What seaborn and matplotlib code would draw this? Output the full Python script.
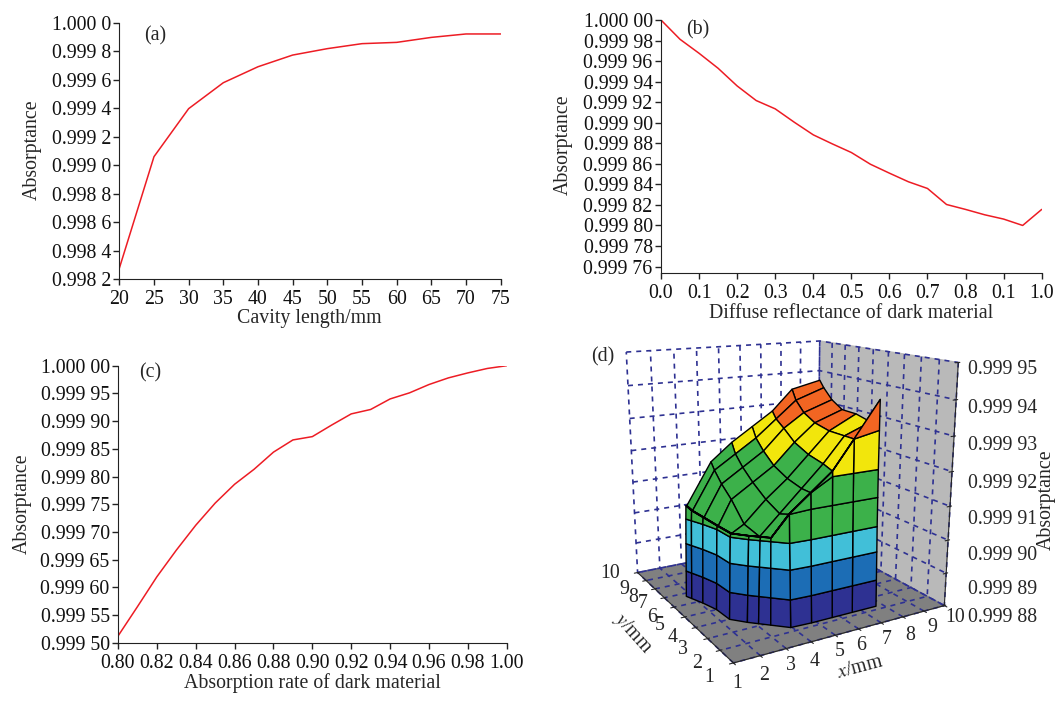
import numpy as np
import pandas as pd
import seaborn as sns
import matplotlib
matplotlib.use('Agg')
import matplotlib.pyplot as plt
from matplotlib.colors import ListedColormap, BoundaryNorm

# panel a
cavity_length = [20, 25, 30, 35, 40, 45, 50, 55, 60, 65, 70, 75]
absorb_a = [0.998277, 0.99906, 0.999397, 0.999579, 0.999691, 0.999773,
            0.999818, 0.999853, 0.999862, 0.999897, 0.999921, 0.999921]
yticks_a = [0.9982, 0.9984, 0.9986, 0.9988, 0.9990, 0.9992, 0.9994, 0.9996, 0.9998, 1.0]
ylabels_a = ['0.998 2', '0.998 4', '0.998 6', '0.998 8', '0.999 0',
             '0.999 2', '0.999 4', '0.999 6', '0.999 8', '1.000 0']

# panel b
reflectance = [0.0, 0.05, 0.1, 0.15, 0.2, 0.25, 0.3, 0.35, 0.4, 0.45, 0.5,
               0.55, 0.6, 0.65, 0.7, 0.75, 0.8, 0.85, 0.9, 0.95, 1.0]
absorb_b = [1.0, 0.9999812, 0.9999676, 0.999953, 0.9999358, 0.9999216, 0.9999135,
            0.9999005, 0.9998882, 0.9998794, 0.999871, 0.9998596, 0.9998509,
            0.9998425, 0.999836, 0.9998204, 0.9998156, 0.9998104, 0.9998062,
            0.9998, 0.9998156]
xticks_b = [0.0, 0.1, 0.2, 0.3, 0.4, 0.5, 0.6, 0.7, 0.8, 0.9, 1.0]
xlabels_b = ['0.0', '0.1', '0.2', '0.3', '0.4', '0.5', '0.6', '0.7', '0.8', '0.1', '1.0']
yticks_b = [0.99976, 0.99978, 0.9998, 0.99982, 0.99984, 0.99986, 0.99988,
            0.9999, 0.99992, 0.99994, 0.99996, 0.99998, 1.0]
ylabels_b = ['0.999 76', '0.999 78', '0.999 80', '0.999 82', '0.999 84', '0.999 86',
             '0.999 88', '0.999 90', '0.999 92', '0.999 94', '0.999 96', '0.999 98', '1.000 00']

# panel c
absorption_rate = [0.80, 0.81, 0.82, 0.83, 0.84, 0.85, 0.86, 0.87, 0.88, 0.89, 0.90,
                   0.91, 0.92, 0.93, 0.94, 0.95, 0.96, 0.97, 0.98, 0.99, 1.00]
absorb_c = [0.999512, 0.999565, 0.999619, 0.999667, 0.999712, 0.999752, 0.999786,
            0.999813, 0.999844, 0.999866, 0.999872, 0.999893, 0.999913, 0.999921,
            0.99994, 0.999951, 0.999966, 0.999978, 0.999987, 0.999995, 1.0]
xticks_c = [0.80, 0.82, 0.84, 0.86, 0.88, 0.90, 0.92, 0.94, 0.96, 0.98, 1.00]
yticks_c = [0.9995, 0.99955, 0.9996, 0.99965, 0.9997, 0.99975, 0.9998, 0.99985, 0.9999, 0.99995, 1.0]
ylabels_c = ['0.999 50', '0.999 55', '0.999 60', '0.999 65', '0.999 70', '0.999 75',
             '0.999 80', '0.999 85', '0.999 90', '0.999 95', '1.000 00']

# panel d: heights in units of 1e-5 above 0.999
top_x = [2.5, 3, 3.9, 4.8, 5.7, 6.6, 7.8]
top_y = [2.4, 3, 4, 5, 5.8, 6.4, 6.7]
left_edge_x = [2.5, 2.5, 2.5, 2.45, 2.25, 2.05, 1.95]
right_edge_x = [7.7, 7.75, 7.8, 7.85, 7.9, 7.9, 7.9]
top_height = [
    [90.5, 90.5, 91.2, 91.7, 92.2, 93.0, 94.0],
    [90.5, 90.5, 91.1, 91.7, 92.3, 93.0, 93.3],
    [90.5, 90.7, 91.3, 91.8, 92.4, 93.0, 93.4],
    [90.5, 91.2, 91.6, 92.0, 92.6, 93.1, 93.4],
    [90.6, 91.5, 91.9, 92.3, 92.9, 93.3, 93.6],
    [90.7, 91.8, 92.2, 92.6, 93.1, 93.6, 93.9],
    [90.8, 92.0, 92.5, 92.9, 93.3, 93.9, 94.1],
]
wall_levels = [88.0, 88.8, 89.65, 90.4, 91.25, 92.05, 93.15, 95.0]
wall_lean = [0.15, 0.12, 0.09, 0.06, 0.04, 0.02, 0.01, 0.0]
wall_bands = [87.0, 88.8, 89.65, 90.4, 92.05, 93.15, 95.0]
top_bands = [87.0, 88.8, 89.65, 90.4, 92.3, 93.2, 95.0]
band_colors = ['#2e3192', '#1c6db5', '#41bfd8', '#3cb14a', '#f2e60c', '#f26522']
zticks_d = [0.99988, 0.99989, 0.9999, 0.99991, 0.99992, 0.99993, 0.99994, 0.99995]
zlabels_d = ['0.999 88', '0.999 89', '0.999 90', '0.999 91',
             '0.999 92', '0.999 93', '0.999 94', '0.999 95']
zlabel_rows = [618, 590, 556, 520, 483, 446, 408, 370]
xlabel_spots = [(737, 684), (764, 675), (791, 665), (815, 662), (840, 652),
                (861, 646), (887, 640), (910, 635), (932, 627), (955, 618)]
ylabel_spots = [(709, 678), (697, 663), (683, 650), (673, 637), (660, 626),
                (652, 617), (643, 603), (633, 597), (624, 589), (610, 574)]

W, H = 1057, 707
RED = '#ed1c24'
FS = 14.3

sns.set_style('ticks')
plt.rcParams['font.family'] = ['Liberation Serif', 'DejaVu Serif']
plt.rcParams['mathtext.fontset'] = 'stix'
plt.rcParams['grid.color'] = '#2e3192'
plt.rcParams['grid.linestyle'] = (0, (3, 3))
plt.rcParams['grid.linewidth'] = 1.2

fig = plt.figure(figsize=(W / 100, H / 100), dpi=100, facecolor='white')


def box(left, top, right, bottom):
    return [left / W, 1 - bottom / H, (right - left) / W, (bottom - top) / H]


def put(x, y, s, **kw):
    fig.text(x / W, 1 - y / H, s, fontsize=kw.pop('fontsize', FS), ha='center', va='center', **kw)


def line_panel(rect, x, y, xticks, xlabels, yticks, ylabels, xlim, ylim):
    ax = fig.add_axes(box(*rect))
    sns.lineplot(x=x, y=y, ax=ax, color=RED, linewidth=1.1)
    ax.set_xlim(*xlim)
    ax.set_ylim(*ylim)
    ax.set_xticks(xticks, xlabels)
    ax.set_yticks(yticks, ylabels)
    ax.set_xlabel('')
    ax.set_ylabel('')
    ax.tick_params(labelsize=FS, length=4, width=1, pad=2, color='#222222', labelcolor='#111111')
    ax.tick_params(axis='x', pad=4)
    for side in ['left', 'bottom']:
        ax.spines[side].set_color('#222222')
    sns.despine(ax=ax)
    return ax


line_panel((119.3, 22.7, 500.7, 279.3), cavity_length, absorb_a, cavity_length,
           [str(v) for v in cavity_length], yticks_a, ylabels_a, (20, 75), (0.9982, 1.0))
line_panel((661, 20, 1041.7, 272.7), reflectance, absorb_b, xticks_b, xlabels_b,
           yticks_b, ylabels_b, (0, 1), (0.999754, 1.0))
line_panel((118, 365.7, 506.7, 642.7), absorption_rate, absorb_c, xticks_c,
           ['%.2f' % v for v in xticks_c], yticks_c, ylabels_c, (0.8, 1.0), (0.9995, 1.0))

put(309, 319, 'Cavity length/mm')
put(851, 314, 'Diffuse reflectance of dark material')
put(312, 683, 'Absorption rate of dark material')
put(32, 150, 'Absorptance', rotation=90)
put(563, 145, 'Absorptance', rotation=90)
put(22, 504, 'Absorptance', rotation=90)
put(155, 36, '(a)')
put(698, 30, '(b)')
put(150, 373, '(c)')
put(603, 357, '(d)')

# 3d surface: top patch with the near corner cut, then a wall strip in front of it
TX, TY = np.meshgrid(np.array(top_x, dtype=float), np.array(top_y, dtype=float))
TX[:, 0] = left_edge_x
TX[:, -1] = right_edge_x
TZ = np.array(top_height)
cut = np.clip(6.4 - TX - TY, 0, None)
TX = TX + cut / 2
TY = TY + cut / 2

# walk the footprint edge: left side from the back, then front side to the right
per_x = np.concatenate([TX[:0:-1, 0], TX[0, :]])
per_y = np.concatenate([TY[:0:-1, 0], TY[0, :]])
per_z = np.concatenate([TZ[:0:-1, 0], TZ[0, :]])
n_left = TX.shape[0] - 1
out_x = np.concatenate([np.full(n_left, -1.0), np.linspace(-1, 0, 3), np.zeros(len(top_x) - 3)])
out_y = np.concatenate([np.zeros(n_left), np.linspace(0, -1, 3), np.full(len(top_x) - 3, -1.0)])
WX = np.array([per_x + out_x * l for l in wall_lean])
WY = np.array([per_y + out_y * l for l in wall_lean])
WZ = np.array([np.minimum(per_z, lev) for lev in wall_levels])

cmap_d = ListedColormap(band_colors)
L = 395.3
cx, cy = 777.9, 482.5
ax3 = fig.add_axes(box(cx - L / 2, cy - L / 2, cx + L / 2, cy + L / 2), projection='3d',
                   facecolor='none', computed_zorder=False)
ax3.plot_surface(TX, TY, 0.999 + TZ / 1e5, rstride=1, cstride=1, cmap=cmap_d,
                 norm=BoundaryNorm([0.999 + v / 1e5 for v in top_bands], len(band_colors)),
                 edgecolor='black', linewidth=1.0, zorder=2)
ax3.plot_surface(WX, WY, 0.999 + WZ / 1e5, rstride=1, cstride=1, cmap=cmap_d,
                 norm=BoundaryNorm([0.999 + v / 1e5 for v in wall_bands], len(band_colors)),
                 edgecolor='black', linewidth=1.0, zorder=3)
ax3.view_init(elev=15.183, azim=-119.999)
ax3.set_box_aspect((0.971, 0.977, 1.0))
ax3.set_proj_type('persp', focal_length=0.372)
ax3.set_xlim(1, 10)
ax3.set_ylim(1, 10)
ax3.set_zlim(0.99988, 0.99995)
ax3.set_xticks(range(1, 11), [''] * 10)
ax3.set_yticks(range(1, 11), [''] * 10)
ax3.set_zticks(zticks_d, [''] * 8)
ax3.xaxis.set_pane_color('#b9b9b9')
ax3.yaxis.set_pane_color('white')
ax3.zaxis.set_pane_color('#808080')
ax3.zaxis._axinfo['juggled'] = (1, 2, 0)
for i, (px, py) in enumerate(xlabel_spots):
    put(px, py, str(i + 1))
for i, (px, py) in enumerate(ylabel_spots):
    put(px, py, str(i + 1))
for lab, py in zip(zlabels_d, zlabel_rows):
    put(1003, py, lab)
put(1046, 500, 'Absorptance', rotation=90)
put(633, 633, '$y$/mm', rotation=-48)
put(860, 668, '$x$/mm', rotation=15)

fig.savefig('out.png', dpi=100)
